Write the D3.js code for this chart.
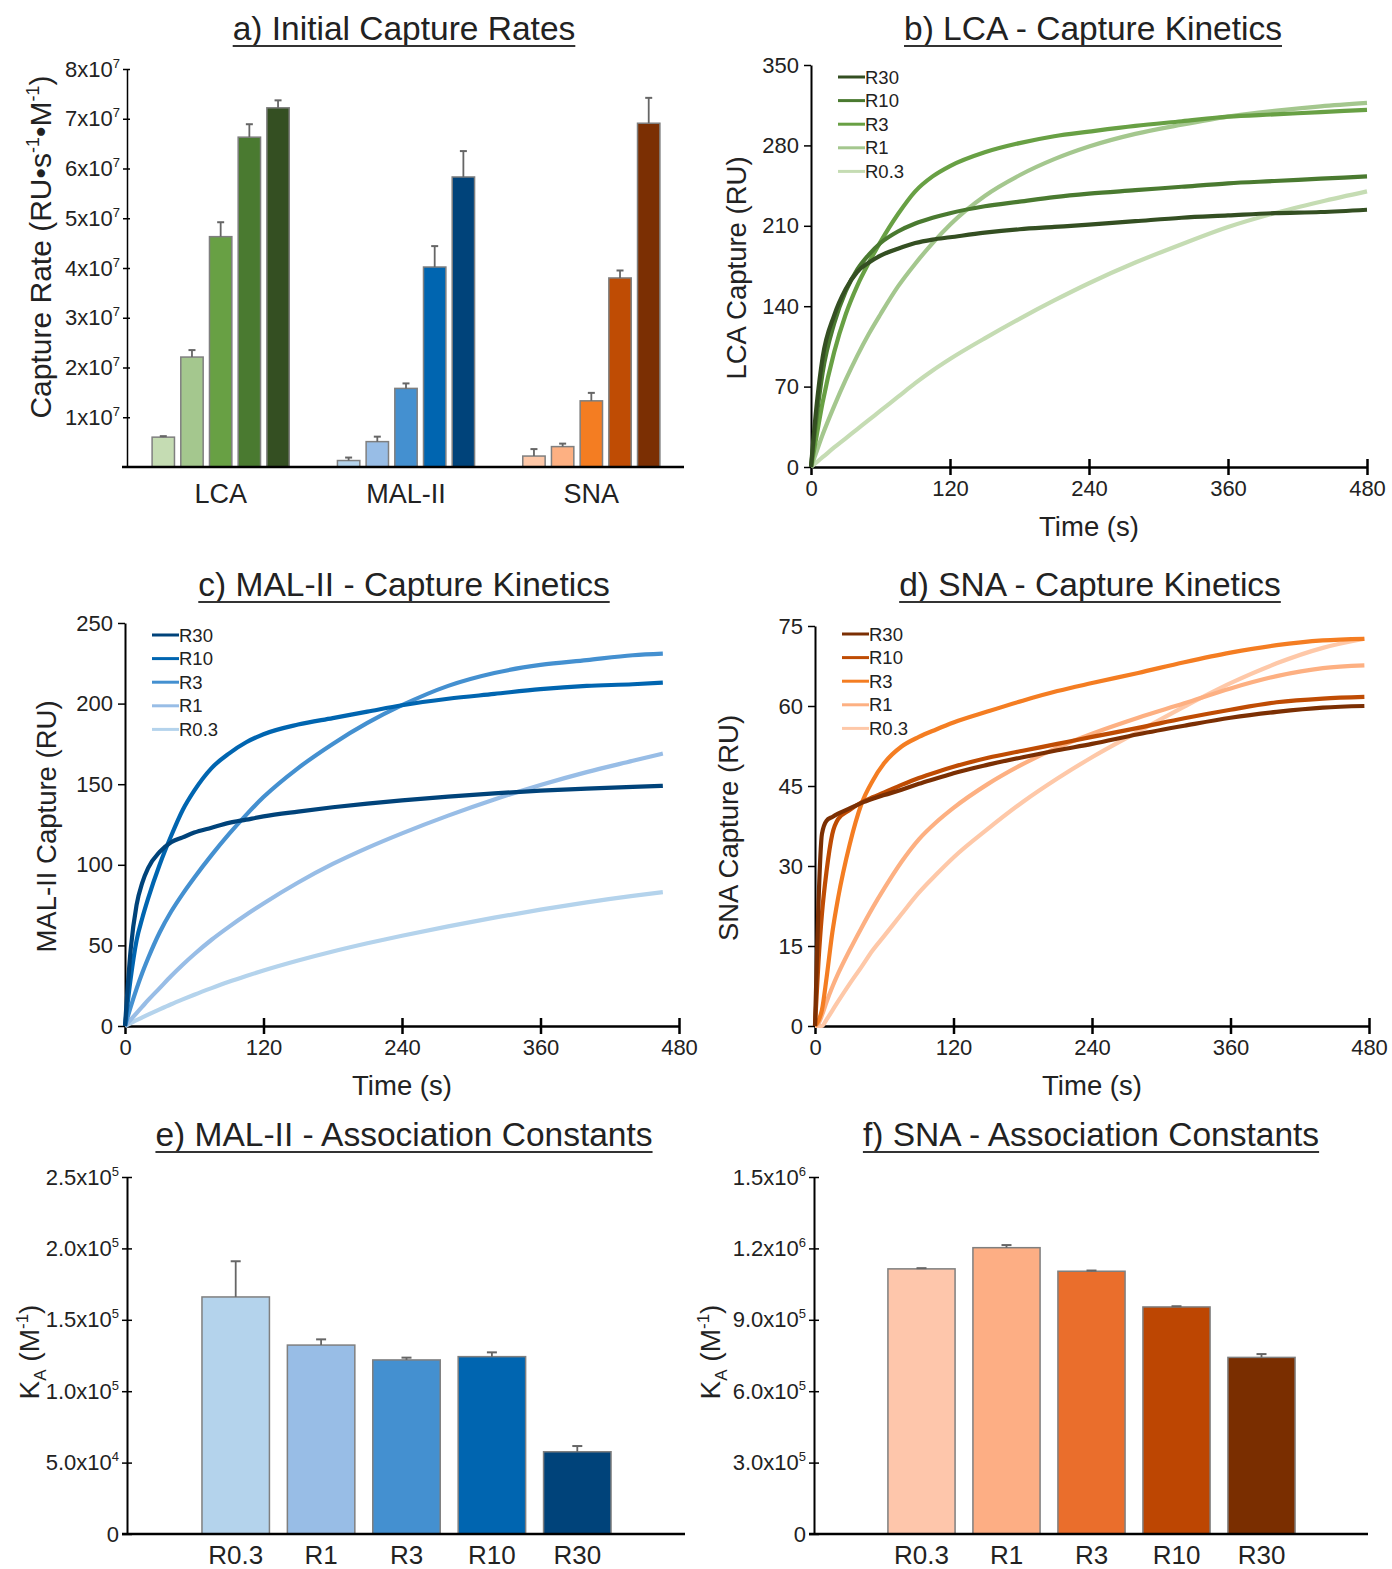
<!DOCTYPE html>
<html>
<head>
<meta charset="utf-8">
<script src="https://cdn.jsdelivr.net/npm/d3@7"></script>
<style>
  body { margin: 0; background: #fff; }
  svg text { font-family: "Liberation Sans", Arial, sans-serif; fill: #222; }
</style>
</head>
<body>
<svg id="fig" width="1392" height="1569"></svg>
<script>
// ---- data ----
const ratios = ["R0.3", "R1", "R3", "R10", "R30"];
const lectins = ["LCA", "MAL-II", "SNA"];

// a) initial capture rates (RU s-1 M-1)
const rateLCA = [0.60e7, 2.21e7, 4.63e7, 6.63e7, 7.22e7];
const rateLCAErr = [0.02e7, 0.14e7, 0.29e7, 0.26e7, 0.15e7];
const rateMAL = [0.13e7, 0.51e7, 1.58e7, 4.02e7, 5.83e7];
const rateMALErr = [0.06e7, 0.10e7, 0.10e7, 0.42e7, 0.52e7];
const rateSNA = [0.22e7, 0.41e7, 1.33e7, 3.80e7, 6.91e7];
const rateSNAErr = [0.14e7, 0.06e7, 0.16e7, 0.15e7, 0.51e7];
const rateTicks = [1e7, 2e7, 3e7, 4e7, 5e7, 6e7, 7e7, 8e7];

// b) LCA capture kinetics (RU)
const tLCA = [0, 5, 10, 20, 30, 40, 50, 60, 75, 90, 105, 120, 150, 180, 210, 240, 280, 320, 360, 400, 440, 480];
const lcaR30 = [0, 55, 95, 132, 155, 170, 178, 184, 190, 195, 198, 200, 204, 207, 209, 211, 214, 217, 219, 221, 222, 224];
const lcaR10 = [0, 45, 82, 125, 153, 172, 185, 195, 205, 212, 217, 221, 227, 231, 235, 238, 241, 244, 247, 249, 251, 253];
const lcaR3 = [0, 28, 56, 100, 133, 158, 178, 196, 220, 240, 253, 262, 274, 282, 288, 292, 297, 301, 305, 307, 309, 311];
const lcaR1 = [0, 14, 28, 53, 76, 97, 116, 133, 157, 177, 195, 211, 236, 254, 268, 279, 290, 298, 305, 310, 314, 317];
const lcaR03 = [0, 4.3, 8.5, 17, 25, 33, 41, 49, 61, 73, 84, 94, 112, 129, 145, 160, 178, 194, 209, 221, 231, 240];

// c) MAL-II capture kinetics (RU)
const tMAL = [0, 5, 10, 15, 20, 30, 40, 50, 60, 75, 90, 105, 120, 150, 180, 210, 240, 280, 320, 360, 400, 440, 466];
const malR30 = [0, 48, 75, 89, 98, 108, 114, 117, 120, 123, 126, 128, 130, 133, 135.7, 138, 140, 142.3, 144.3, 146, 147.3, 148.3, 149];
const malR10 = [0, 30, 53, 67, 79, 100, 118, 134, 146, 160, 169, 176, 181, 187, 191, 195, 199, 203, 206, 209, 211, 212, 213];
const malR3 = [0, 12, 23, 33, 42, 58, 71, 82, 92, 106, 119, 131, 142, 160, 175, 188, 199, 211, 219, 224, 227, 230, 231];
const malR1 = [0, 4, 8, 12, 16, 23.5, 31, 38, 44.5, 53.5, 61.5, 69, 76, 89, 100.5, 110.5, 119.5, 130.5, 140.5, 149.5, 157.5, 164.5, 169];
const malR03 = [0, 1.8, 3.6, 5.3, 7, 10.3, 13.5, 16.5, 19.4, 23.5, 27.4, 31, 34.4, 40.6, 46.2, 51.3, 56, 61.8, 67.2, 72.2, 76.7, 80.7, 83];

// d) SNA capture kinetics (RU)
const tSNA = [0, 3, 6, 10, 15, 20, 30, 40, 50, 60, 75, 90, 105, 120, 150, 180, 210, 240, 280, 320, 360, 400, 440, 476];
const snaR30 = [0, 23, 36, 38.5, 39.2, 39.8, 40.8, 41.8, 42.6, 43.3, 44.3, 45.4, 46.4, 47.4, 49, 50.4, 51.7, 52.9, 54.7, 56.3, 57.8, 58.9, 59.7, 60];
const snaR10 = [0, 12, 21, 29, 36, 38.8, 40.5, 41.9, 42.9, 43.8, 45.2, 46.5, 47.6, 48.6, 50.3, 51.6, 52.9, 54.2, 55.9, 57.7, 59.3, 60.7, 61.4, 61.7];
const snaR3 = [0, 1, 3, 9, 17.5, 24, 34, 41.5, 46, 49.3, 52.4, 54.2, 55.6, 56.9, 59, 61, 62.8, 64.3, 66.2, 68.2, 70, 71.4, 72.3, 72.6];
const snaR1 = [0, 0.5, 2, 4.5, 7.3, 9.8, 14.2, 18.3, 22.2, 25.8, 30.8, 35, 38.2, 40.9, 45.4, 49.1, 52.2, 54.8, 57.8, 60.5, 63.3, 65.6, 67.1, 67.6];
const snaR03 = [0, 0, 0, 1.2, 2.9, 4.6, 7.9, 11, 14.2, 16.9, 21, 25, 28.4, 31.6, 37, 42, 46.4, 50.4, 55.2, 59.9, 64.3, 68, 70.9, 72.6];

// e, f) association constants (M-1)
const kaMAL = [166000, 132300, 121900, 124200, 57600];
const kaMALErr = [25000, 4000, 1600, 3000, 4000];
const kaMALTicks = [0, 50000, 100000, 150000, 200000, 250000];
const kaSNA = [1114000, 1203000, 1104000, 954000, 742000];
const kaSNAErr = [3000, 11000, 3000, 3000, 14000];
const kaSNATicks = [0, 300000, 600000, 900000, 1200000, 1500000];

// colours, R0.3 -> R30
const lcaColors = ["#c5dcb3", "#a4c78e", "#68a044", "#4a7a30", "#344f22"];
const malColors = ["#b4d3ec", "#98bde6", "#4490d0", "#0065b0", "#00437a"];
const snaColors = ["#fec8a8", "#fdb082", "#f47d22", "#bf4c04", "#7b2f03"];
const snaKaColors = ["#fec6ab", "#fdae84", "#ea6e2c", "#bd4602", "#7a2e00"];

const svg = d3.select("#fig");

// ---- helpers ----
function title(txt, cx, y) {
  const t = svg.append("text").attr("x", cx).attr("y", y)
    .attr("text-anchor", "middle").attr("font-size", 33.5).attr("fill", "#2a2a2a").text(txt);
  const b = t.node().getBBox();
  svg.append("line").attr("x1", b.x).attr("x2", b.x + b.width)
    .attr("y1", y + 6).attr("y2", y + 6).attr("stroke", "#333").attr("stroke-width", 2);
}

function sciTicks(g, digits) {
  g.selectAll(".tick text").each(function(d) {
    const t = d3.select(this).text(null);
    if (d === 0) { t.text("0"); return; }
    const e = Math.floor(Math.log10(d) + 1e-9);
    t.append("tspan").text((d / 10 ** e).toFixed(digits) + "x10");
    t.append("tspan").attr("dy", -9).attr("font-size", 13).text(e);
  });
}

function styleAxis(g, w) {
  g.select(".domain").attr("stroke", "#000").attr("stroke-width", w);
  g.selectAll(".tick line").attr("stroke", "#000").attr("stroke-width", 1.5);
  g.selectAll(".tick text").attr("font-size", 22).attr("fill", "#333");
}

function yLabel(x, y, parts, size) {
  const t = svg.append("text").attr("transform", `translate(${x},${y}) rotate(-90)`)
    .attr("text-anchor", "middle").attr("font-size", size).attr("fill", "#2a2a2a");
  parts.forEach(p => {
    const s = t.append("tspan").text(p.t);
    if (p.dy) s.attr("dy", p.dy);
    if (p.fs) s.attr("font-size", p.fs);
  });
}

function bars(g, xs, y, vals, errs, cols, capW) {
  g.selectAll("rect.bar").data(ratios).join("rect").attr("class", "bar")
    .attr("x", r => xs(r)).attr("width", xs.bandwidth())
    .attr("y", (r, i) => y(vals[i])).attr("height", (r, i) => y(0) - y(vals[i]))
    .attr("fill", (r, i) => cols[i]).attr("stroke", "#7f7f7f").attr("stroke-width", 1.5);
  g.selectAll("line.err").data(ratios).join("line").attr("class", "err")
    .attr("x1", r => xs(r) + xs.bandwidth() / 2).attr("x2", r => xs(r) + xs.bandwidth() / 2)
    .attr("y1", (r, i) => y(vals[i])).attr("y2", (r, i) => y(vals[i] + errs[i]))
    .attr("stroke", "#666").attr("stroke-width", 1.8);
  g.selectAll("line.cap").data(ratios).join("line").attr("class", "cap")
    .attr("x1", r => xs(r) + xs.bandwidth() / 2 - capW / 2)
    .attr("x2", r => xs(r) + xs.bandwidth() / 2 + capW / 2)
    .attr("y1", (r, i) => y(vals[i] + errs[i])).attr("y2", (r, i) => y(vals[i] + errs[i]))
    .attr("stroke", "#666").attr("stroke-width", 2);
}

// ---- a) initial capture rates ----
title("a) Initial Capture Rates", 404, 40);
{
  const y = d3.scaleLinear().domain([0, 8e7]).range([467, 69]);
  const xg = d3.scaleBand().domain(lectins).range([128, 684]);
  const xi = d3.scaleBand().domain(ratios).range([0, xg.bandwidth()]).paddingInner(0.22).paddingOuter(0.84);
  const sets = [[rateLCA, rateLCAErr, lcaColors], [rateMAL, rateMALErr, malColors], [rateSNA, rateSNAErr, snaColors]];
  lectins.forEach((lec, gi) => {
    const g = svg.append("g").attr("transform", `translate(${xg(lec)},0)`);
    bars(g, xi, y, sets[gi][0], sets[gi][1], sets[gi][2], 7);
  });
  const gy = svg.append("g").attr("transform", "translate(127,0)")
    .call(d3.axisLeft(y).tickValues(rateTicks).tickSizeInner(4).tickSizeOuter(0).tickPadding(3));
  styleAxis(gy, 1.5);
  gy.selectAll(".tick line").attr("x2", -4).attr("x1", 3);
  sciTicks(gy, 0);
  const gx = svg.append("g").attr("transform", "translate(0,467)")
    .call(d3.axisBottom(xg).tickSize(0).tickPadding(17));
  gx.select(".domain").remove();
  gx.selectAll(".tick text").attr("font-size", 27).attr("fill", "#222");
  svg.append("line").attr("x1", 122).attr("x2", 684).attr("y1", 467).attr("y2", 467)
    .attr("stroke", "#000").attr("stroke-width", 2.5);
  yLabel(51, 247, [{t: "Capture Rate (RU•s"}, {t: "-1", dy: -12, fs: 18}, {t: "•M", dy: 12},
    {t: "-1", dy: -12, fs: 18}, {t: ")", dy: 12}], 30);
}

// ---- kinetics panels ----
function kinetics(o) {
  const x = d3.scaleLinear().domain([0, 480]).range([o.x0, o.x1]);
  const y = d3.scaleLinear().domain([0, o.yMax]).range([o.yBot, o.yTop]);
  const line = d3.line().x(d => x(d[0])).y(d => y(d[1])).curve(d3.curveMonotoneX);
  const gx = svg.append("g").attr("transform", `translate(0,${o.yBot})`)
    .call(d3.axisBottom(x).tickValues([0, 120, 240, 360, 480]).tickSizeInner(8).tickSizeOuter(0).tickPadding(5));
  styleAxis(gx, 2.5);
  gx.selectAll(".tick line").attr("y1", -8).attr("stroke-width", 2.5);
  const gy = svg.append("g").attr("transform", `translate(${o.x0},0)`)
    .call(d3.axisLeft(y).tickValues(d3.range(0, o.yMax + 1, o.yStep)).tickSizeInner(7).tickSizeOuter(0).tickPadding(5));
  styleAxis(gy, 2);
  // R0.3 drawn first, R30 last
  o.series.forEach((vals, i) => {
    svg.append("path").datum(o.times.map((t, k) => [t, vals[k]]))
      .attr("d", line).attr("fill", "none").attr("stroke", o.colors[i])
      .attr("stroke-width", 4.2).attr("stroke-linejoin", "round");
  });
  // legend, R30 on top
  const lg = svg.append("g").attr("transform", `translate(${o.lx},${o.ly})`);
  ratios.slice().reverse().forEach((r, i) => {
    const c = o.colors[ratios.length - 1 - i];
    lg.append("line").attr("x1", 0).attr("x2", 27).attr("y1", i * 23.6).attr("y2", i * 23.6)
      .attr("stroke", c).attr("stroke-width", 3);
    lg.append("text").attr("x", 27).attr("y", i * 23.6 + 6.5).attr("font-size", 18.5)
      .attr("fill", "#333").text(r);
  });
  svg.append("text").attr("x", (o.x0 + o.x1) / 2).attr("y", o.yBot + 69).attr("text-anchor", "middle")
    .attr("font-size", 27.5).attr("fill", "#2a2a2a").text("Time (s)");
  yLabel(o.labX, (o.yBot + o.yTop) / 2 + 2, [{t: o.ylabel}], 27.5);
}

title("b) LCA - Capture Kinetics", 1093, 40);
kinetics({x0: 811, x1: 1367, yTop: 65, yBot: 467, yMax: 350, yStep: 70,
  times: tLCA, series: [lcaR03, lcaR1, lcaR3, lcaR10, lcaR30], colors: lcaColors,
  lx: 838, ly: 77, labX: 746, ylabel: "LCA Capture (RU)"});

title("c) MAL-II - Capture Kinetics", 404, 596);
kinetics({x0: 125, x1: 679, yTop: 623, yBot: 1026, yMax: 250, yStep: 50,
  times: tMAL, series: [malR03, malR1, malR3, malR10, malR30], colors: malColors,
  lx: 152, ly: 635, labX: 56, ylabel: "MAL-II Capture (RU)"});

title("d) SNA - Capture Kinetics", 1090, 596);
kinetics({x0: 815, x1: 1369, yTop: 626, yBot: 1026, yMax: 75, yStep: 15,
  times: tSNA, series: [snaR03, snaR1, snaR3, snaR10, snaR30], colors: snaColors,
  lx: 842, ly: 634, labX: 738, ylabel: "SNA Capture (RU)"});

// ---- association constants ----
function kaPanel(o) {
  const y = d3.scaleLinear().domain([0, o.yMax]).range([1534, 1177]);
  const xs = d3.scaleBand().domain(ratios).range([o.b0, o.b1]).paddingInner(0.21).paddingOuter(0.105);
  const g = svg.append("g");
  bars(g, xs, y, o.vals, o.errs, o.colors, 10);
  const gy = svg.append("g").attr("transform", `translate(${o.x0},0)`)
    .call(d3.axisLeft(y).tickValues(o.ticks).tickSizeInner(5).tickSizeOuter(0).tickPadding(3));
  styleAxis(gy, 2);
  gy.selectAll(".tick line").attr("x1", 5);
  sciTicks(gy, 1);
  const gx = svg.append("g").attr("transform", "translate(0,1534)")
    .call(d3.axisBottom(xs).tickSize(0).tickPadding(12));
  gx.select(".domain").remove();
  gx.selectAll(".tick text").attr("font-size", 26).attr("fill", "#222");
  svg.append("line").attr("x1", o.x0 - 5).attr("x2", o.x1).attr("y1", 1534).attr("y2", 1534)
    .attr("stroke", "#000").attr("stroke-width", 2.5);
  yLabel(o.labX, 1352, [{t: "K"}, {t: "A", dy: 7, fs: 17}, {t: " (M", dy: -7},
    {t: "-1", dy: -11, fs: 17}, {t: ")", dy: 11}], 28);
}

title("e) MAL-II - Association Constants", 404, 1146);
kaPanel({x0: 127, x1: 685, b0: 193, b1: 620, yMax: 250000, ticks: kaMALTicks,
  vals: kaMAL, errs: kaMALErr, colors: malColors, labX: 39});

title("f) SNA - Association Constants", 1091, 1146);
kaPanel({x0: 814, x1: 1368, b0: 879, b1: 1304, yMax: 1500000, ticks: kaSNATicks,
  vals: kaSNA, errs: kaSNAErr, colors: snaKaColors, labX: 720});
</script>
</body>
</html>
